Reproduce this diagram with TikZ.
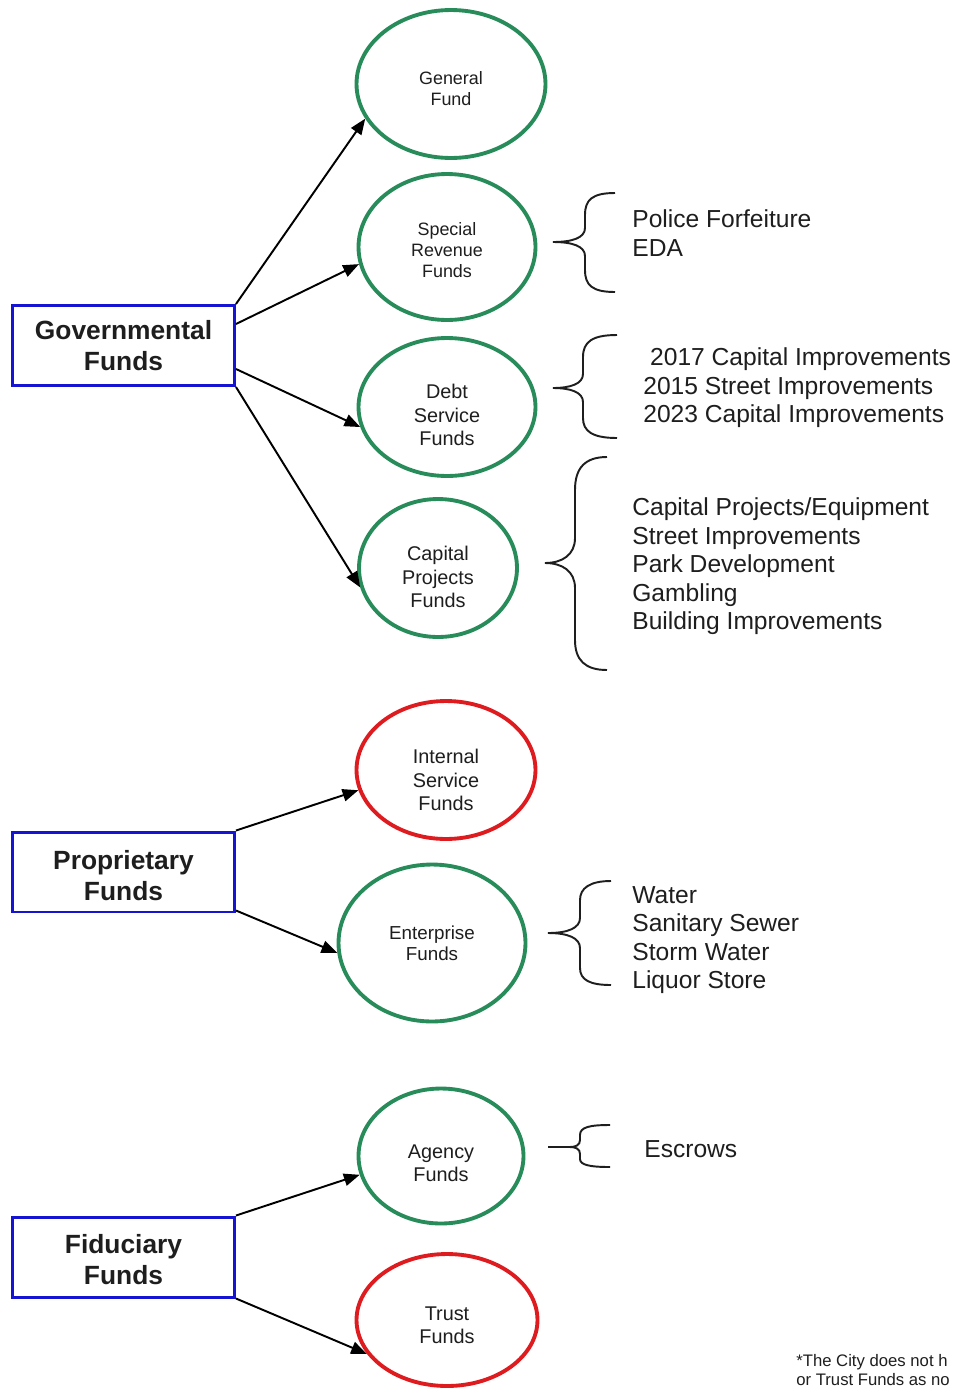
\documentclass[tikz,border=0pt]{standalone}
\usepackage{fontspec}
\setmainfont{Liberation Sans}
\usetikzlibrary{arrows.meta,shapes.geometric}
\definecolor{fgreen}{RGB}{40,140,90}
\definecolor{fred}{RGB}{222,28,32}
\definecolor{fblue}{RGB}{20,20,210}
\definecolor{ftext}{RGB}{30,30,30}
\newcommand{\dnstrut}[1]{\rule{0pt}{#1}}
\tikzset{
  fundbox/.style={draw=fblue, line width=1.7pt, minimum width=4.44cm, minimum height=1.6cm,
    align=center, inner sep=0pt, text=ftext, font=\fontsize{15}{17.6}\selectfont\bfseries},
  fundell/.style={ellipse, line width=2.2pt, inner sep=0pt, align=center, text=ftext,
    font=\fontsize{11.3}{13.3}\selectfont},
  greenell/.style={fundell, draw=fgreen},
  redell/.style={fundell, draw=fred},
  smallell/.style={font=\fontsize{10.2}{11.9}\selectfont},
  arr/.style={line width=1.1pt, -{Triangle[length=9pt,width=7pt]}},
  bracepath/.style={line width=1.1pt, ftext},
  listtext/.style={anchor=west, align=left, inner sep=0pt, text=ftext, font=\fontsize{14}{16.2}\selectfont}
}
\begin{document}
\begin{tikzpicture}[x=0.02cm,y=-0.02cm]
\useasboundingbox[fill=white] (0,0) rectangle (955,1390);

% boxes
\node[fundbox] (gov) at (123.5,345.5) {Governmental\\Funds};
\node[fundbox] (prop) at (123.5,872) {\dnstrut{14.5pt}Proprietary\\Funds};
\node[fundbox] (fid) at (123.5,1257) {\dnstrut{13.5pt}Fiduciary\\Funds};

% ellipses
\node[greenell, smallell, minimum width=3.78cm, minimum height=2.96cm] (gen) at (451,84) {\dnstrut{12.2pt}General\\Fund};
\node[greenell, smallell, minimum width=3.54cm, minimum height=2.92cm] (spec) at (447,247) {\dnstrut{10.9pt}Special\\Revenue\\Funds};
\node[greenell, minimum width=3.54cm, minimum height=2.76cm] (debt) at (447,407) {\dnstrut{17.3pt}Debt\\Service\\Funds};
\node[greenell, minimum width=3.16cm, minimum height=2.76cm] (cap) at (438,568) {\dnstrut{18.5pt}Capital\\Projects\\Funds};
\node[redell, minimum width=3.58cm, minimum height=2.76cm] (int) at (446,770) {\dnstrut{19.7pt}Internal\\Service\\Funds};
\node[greenell, font=\fontsize{10.7}{12}\selectfont, minimum width=3.74cm, minimum height=3.14cm] (ent) at (432,943) {Enterprise\\Funds};
\node[greenell, minimum width=3.3cm, minimum height=2.7cm] (agen) at (441,1156) {\dnstrut{16.3pt}Agency\\Funds};
\node[redell, minimum width=3.62cm, minimum height=2.64cm] (trust) at (447,1320) {\dnstrut{13.9pt}Trust\\Funds};

% arrows
\draw[arr] (gov.north east) -- (gen.202);
\draw[arr] ([yshift=-0.4cm]gov.north east) -- (spec.191);
\draw[arr] ([yshift=-0.47cm]gov.east) -- (debt.193);
\draw[arr] (gov.south east) -- (cap.194);
\draw[arr] (prop.north east) -- (int.193);
\draw[arr] ([yshift=0.06cm]prop.south east) -- (ent.186);
\draw[arr] (fid.north east) -- (agen.193);
\draw[arr] (fid.south east) -- (trust.203);

% braces
\draw[bracepath] (615,193) .. controls (592,193) and (585,200) .. (585,215) -- (585,228)
  .. controls (585,238) and (572,242) .. (553,242) .. controls (572,242) and (585,246) .. (585,256)
  -- (585,270) .. controls (585,285) and (592,292) .. (615,292);
\draw[bracepath] (617,335) .. controls (592,335) and (583,342) .. (583,357) -- (583,374)
  .. controls (583,384) and (570,388) .. (553,388) .. controls (570,388) and (583,392) .. (583,402)
  -- (583,418) .. controls (583,431) and (592,438) .. (617,438);
\draw[bracepath] (607,457) .. controls (585,457) and (575,468) .. (575,490) -- (575,538)
  .. controls (575,555) and (562,563) .. (545,563) .. controls (562,563) and (575,571) .. (575,588)
  -- (575,640) .. controls (575,660) and (585,670) .. (607,670);
\draw[bracepath] (611,881) .. controls (590,881) and (580,888) .. (580,900) -- (580,918)
  .. controls (580,928) and (568,933) .. (548,933) .. controls (568,933) and (580,938) .. (580,948)
  -- (580,968) .. controls (580,980) and (590,985) .. (611,985);
\draw[bracepath] (610,1125) .. controls (590,1125) and (580,1127) .. (580,1135) -- (580,1140)
  .. controls (580,1145) and (576,1147) .. (570,1147) -- (548,1147);
\draw[bracepath] (570,1147) .. controls (576,1147) and (580,1149) .. (580,1154) -- (580,1159)
  .. controls (580,1165) and (590,1167) .. (610,1167);

% lists
\node[listtext] (l1) at (632,233) {Police Forfeiture\\EDA};
\node[listtext] (l2) at (643,388) {\hspace*{3.9pt}2017 Capital Improvements\\2015 Street Improvements\\2023 Capital Improvements};
\node[listtext] (l3) at (632,566.5) {Capital Projects/Equipment\\Street Improvements\\Park Development\\Gambling\\Building Improvements};
\node[listtext] (l4) at (632,940) {Water\\Sanitary Sewer\\Storm Water\\Liquor Store};
\node[listtext] (l5) at (644,1149) {Escrows};

% footnote
\node[anchor=west, align=left, inner sep=0pt, text=ftext, font=\fontsize{9.5}{11.3}\selectfont] (note) at (796,1370) {*The City does not h\\or Trust Funds as no};
\end{tikzpicture}
\end{document}
